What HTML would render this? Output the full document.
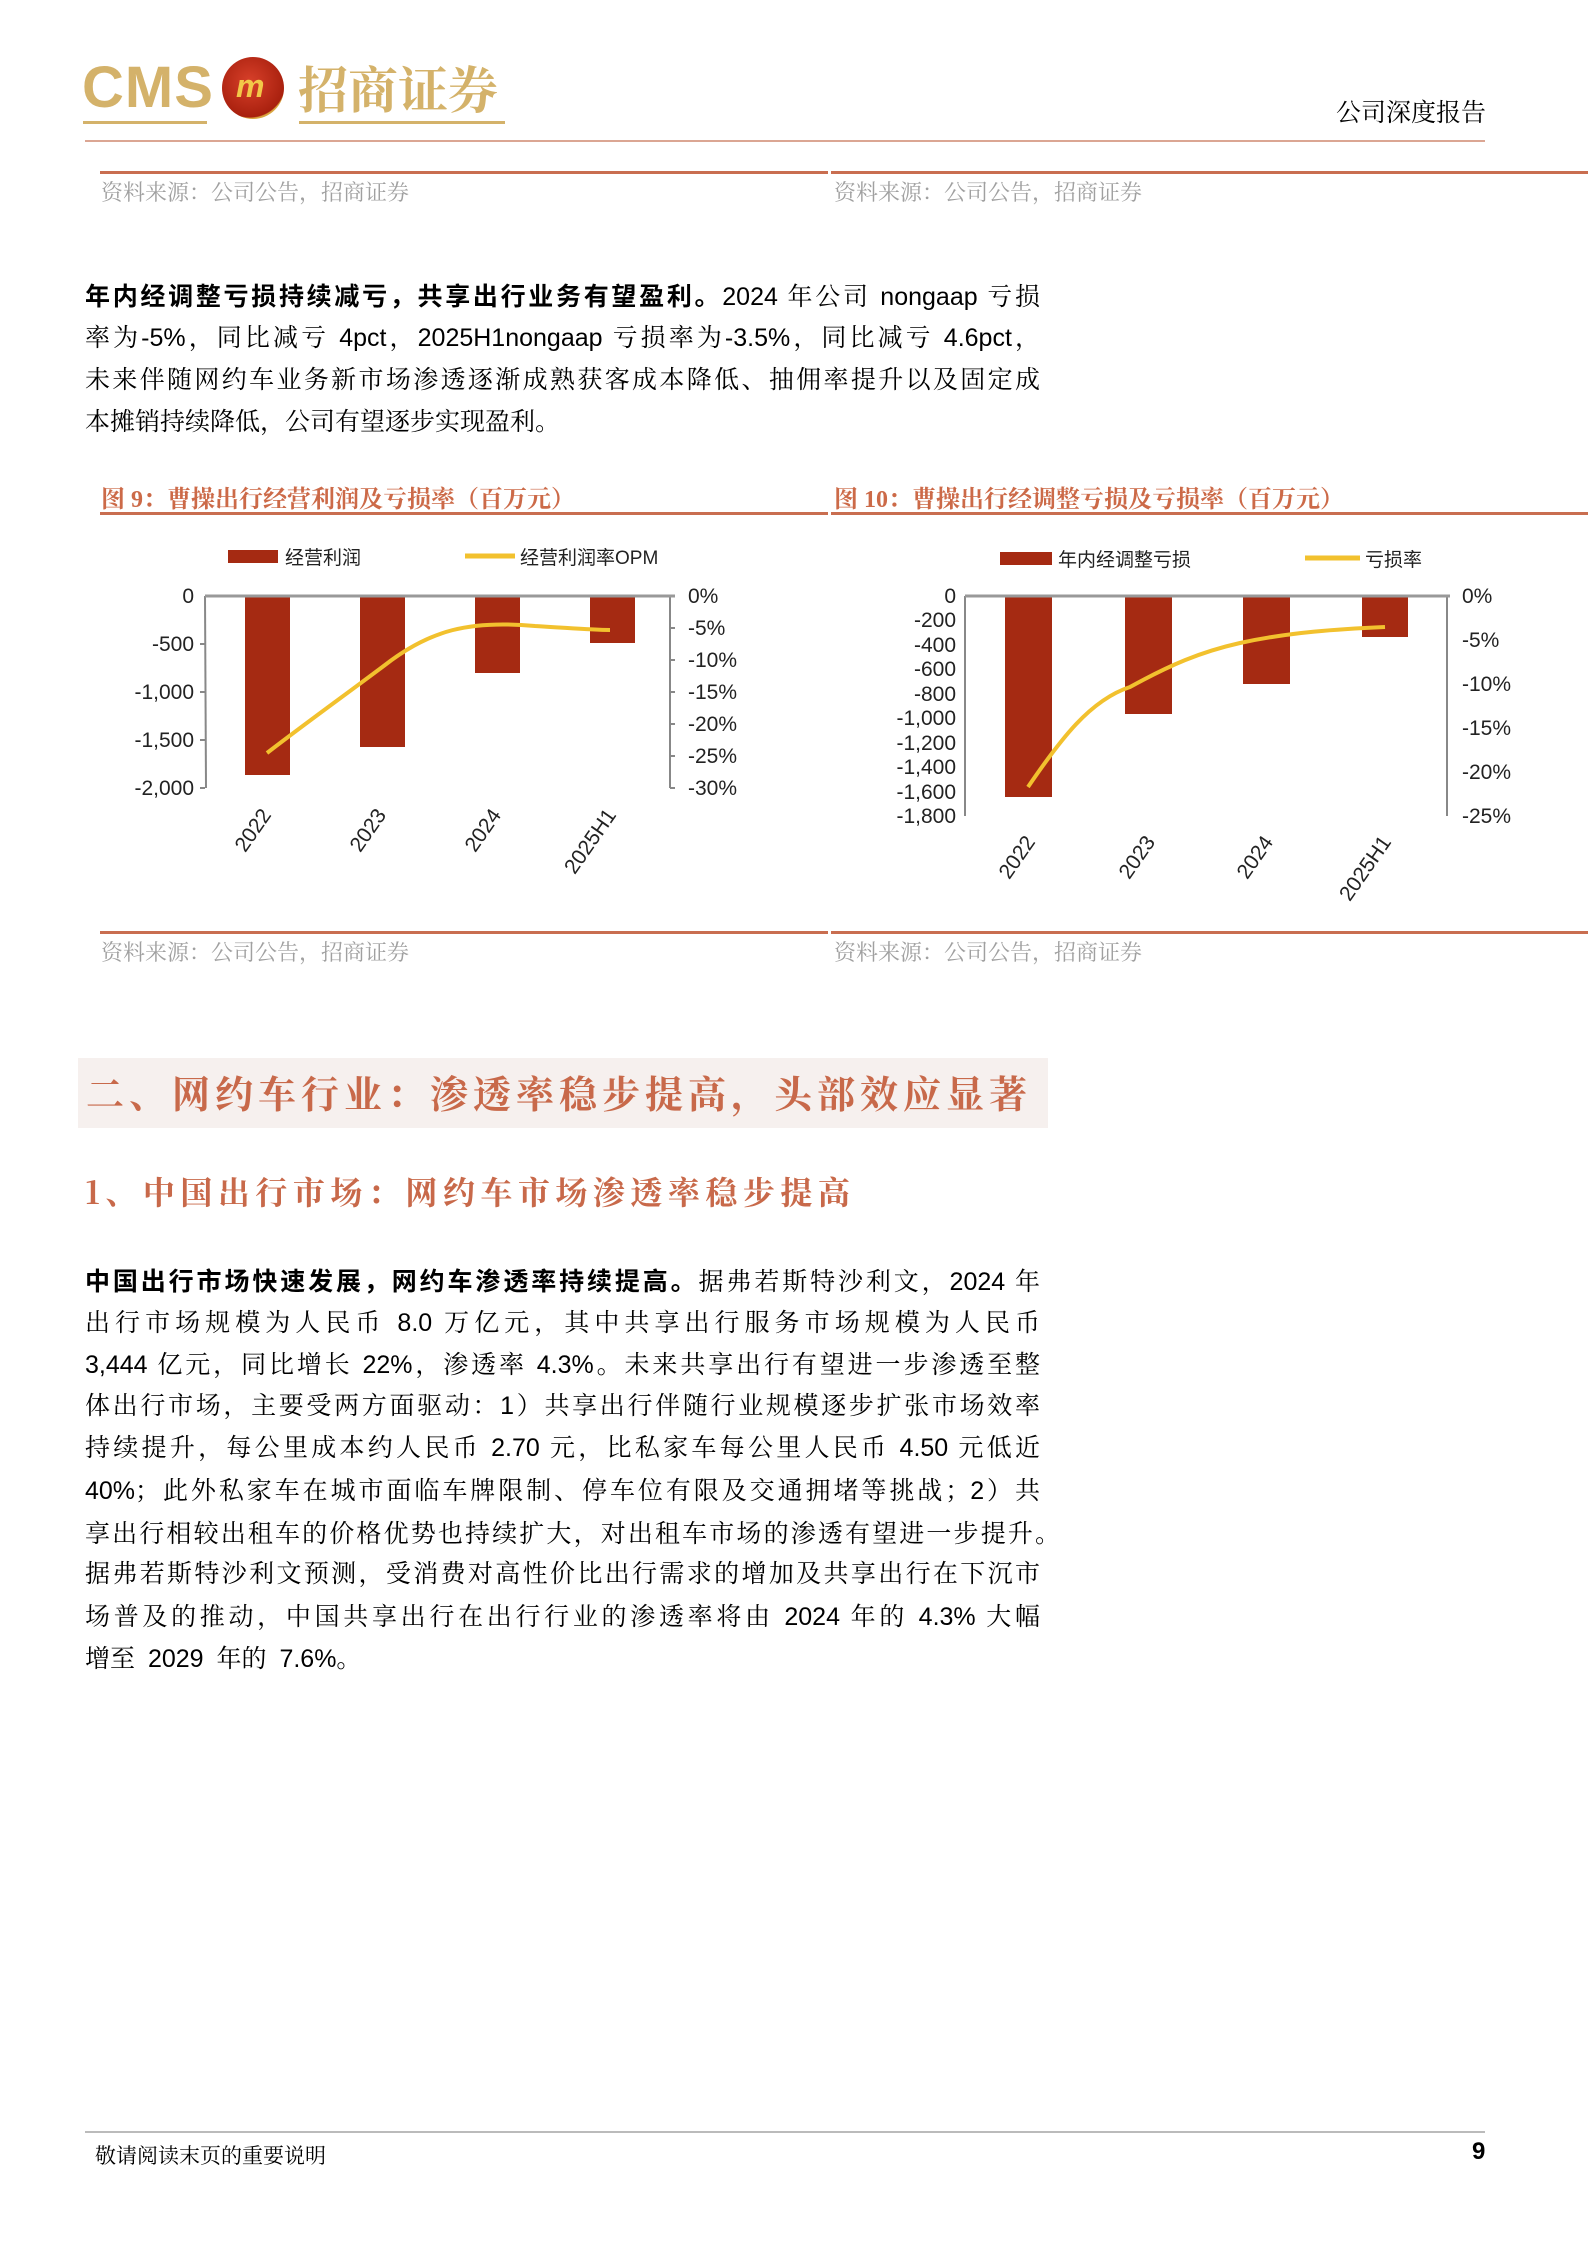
<!DOCTYPE html>
<html><head><meta charset="utf-8"><style>
body{margin:0;background:#fff;}
#p{position:relative;width:1588px;height:2245px;overflow:hidden;font-family:"Liberation Sans","Noto Sans CJK SC",sans-serif;}
.a{position:absolute;white-space:nowrap;}
.src{color:#a0a0a0;font-size:22px;font-family:"Liberation Serif","Noto Serif CJK SC",serif;}
.ft{color:#cc6a48;font-size:24px;font-family:"Liberation Serif","Noto Serif CJK SC",serif;font-weight:bold;}
.ln{position:absolute;left:85px;width:955px;font-size:25px;line-height:30px;text-align:justify;text-align-last:justify;color:#000;font-family:"Liberation Sans","Noto Serif CJK SC",serif;}
.ln b{font-family:"Liberation Sans","Noto Sans CJK SC",sans-serif;}
.ln.l{text-align-last:left;}
.hr{position:absolute;height:3px;background:#c96e50;}
</style></head><body><div id="p">
<!-- header -->
<div class="a" style="left:82px;top:56px;font-size:58px;font-weight:bold;color:#d4b26a;line-height:64px;letter-spacing:1px">CMS</div>
<div class="a" style="left:83px;top:121px;width:124px;height:3px;background:#d4b26a"></div>
<div class="a" style="left:222px;top:57px;width:62px;height:62px;border-radius:50%;background:radial-gradient(circle at 45% 40%,#d8402a,#a8200e 70%,#d9a640 72%);"></div>
<div class="a" style="left:236px;top:68px;font-size:32px;font-weight:bold;font-style:italic;color:#f2c848">m</div>
<div class="a" style="left:298px;top:56px;font-size:50px;font-weight:bold;color:#d4b26a;font-family:'Noto Serif CJK SC',serif;line-height:62px">招商证券</div>
<div class="a" style="left:299px;top:121px;width:206px;height:3px;background:#d4b26a"></div>
<div class="a" style="left:1336px;top:93px;font-size:25px;color:#000;font-family:'Noto Serif CJK SC',serif">公司深度报告</div>
<div class="a" style="left:85px;top:140px;width:1400px;height:2px;background:#dba693"></div>

<div class="hr" style="left:100px;top:171px;width:728px"></div>
<div class="hr" style="left:831px;top:171px;width:757px"></div>
<div class="a src" style="left:101px;top:176px">资料来源：公司公告，招商证券</div>
<div class="a src" style="left:834px;top:176px">资料来源：公司公告，招商证券</div>

<div class="ln" style="top:282px"><b>年内经调整亏损持续减亏，共享出行业务有望盈利。</b>2024 年公司 nongaap 亏损</div>
<div class="ln" style="top:323px">率为-5%，同比减亏 4pct，2025H1nongaap 亏损率为-3.5%，同比减亏 4.6pct，</div>
<div class="ln" style="top:365px">未来伴随网约车业务新市场渗透逐渐成熟获客成本降低、抽佣率提升以及固定成</div>
<div class="ln l" style="top:407px">本摊销持续降低，公司有望逐步实现盈利。</div>

<div class="a ft" style="left:101px;top:479px">图 9：曹操出行经营利润及亏损率（百万元）</div>
<div class="a ft" style="left:834px;top:479px">图 10：曹操出行经调整亏损及亏损率（百万元）</div>
<div class="hr" style="left:100px;top:512px;width:728px"></div>
<div class="hr" style="left:831px;top:512px;width:757px"></div>

<svg class="a" style="left:0;top:0" width="1588" height="1000" font-family="Liberation Sans,Noto Sans CJK SC,sans-serif" font-size="21" fill="#222">
<rect x="228" y="550" width="50" height="13" fill="#a52a12"/>
<text x="285" y="564" font-size="19">经营利润</text>
<line x1="465" y1="556" x2="515" y2="556" stroke="#f2c12e" stroke-width="5"/>
<text x="520" y="564" font-size="19">经营利润率OPM</text>
<rect x="245" y="596" width="45" height="179" fill="#a52a12"/>
<rect x="360" y="596" width="45" height="151" fill="#a52a12"/>
<rect x="475" y="596" width="45" height="77" fill="#a52a12"/>
<rect x="590" y="596" width="45" height="47" fill="#a52a12"/>
<line x1="205" y1="596" x2="206" y2="788" stroke="#888" stroke-width="2"/>
<line x1="670" y1="596" x2="670" y2="788" stroke="#888" stroke-width="2"/>
<line x1="205" y1="596" x2="675" y2="596" stroke="#999" stroke-width="3"/>
<g stroke="#888" stroke-width="2"><line x1="200" y1="644" x2="205" y2="644"/><line x1="200" y1="692" x2="205" y2="692"/><line x1="200" y1="740" x2="205" y2="740"/><line x1="200" y1="788" x2="205" y2="788"/>
<line x1="670" y1="628" x2="675" y2="628"/><line x1="670" y1="660" x2="675" y2="660"/><line x1="670" y1="692" x2="675" y2="692"/><line x1="670" y1="724" x2="675" y2="724"/><line x1="670" y1="756" x2="675" y2="756"/><line x1="670" y1="788" x2="675" y2="788"/></g>
<g text-anchor="end"><text x="194" y="603">0</text><text x="194" y="651">-500</text><text x="194" y="699">-1,000</text><text x="194" y="747">-1,500</text><text x="194" y="795">-2,000</text></g>
<g><text x="688" y="603">0%</text><text x="688" y="635">-5%</text><text x="688" y="667">-10%</text><text x="688" y="699">-15%</text><text x="688" y="731">-20%</text><text x="688" y="763">-25%</text><text x="688" y="795">-30%</text></g>
<path d="M267 753 C310 720,345 695,385 665 C430 630,470 620,535 626 C570 628,590 630,610 630" fill="none" stroke="#f2c12e" stroke-width="4"/>
<g text-anchor="end"><text transform="translate(272,815) rotate(-55)">2022</text><text transform="translate(387,815) rotate(-55)">2023</text><text transform="translate(502,815) rotate(-55)">2024</text><text transform="translate(617,815) rotate(-55)">2025H1</text></g>
<rect x="1000" y="552" width="52" height="13" fill="#a52a12"/>
<text x="1058" y="566" font-size="19">年内经调整亏损</text>
<line x1="1305" y1="558" x2="1360" y2="558" stroke="#f2c12e" stroke-width="5"/>
<text x="1365" y="566" font-size="19">亏损率</text>
<rect x="1005" y="596" width="47" height="201" fill="#a52a12"/>
<rect x="1125" y="596" width="47" height="118" fill="#a52a12"/>
<rect x="1243" y="596" width="47" height="88" fill="#a52a12"/>
<rect x="1362" y="596" width="46" height="41" fill="#a52a12"/>
<line x1="965" y1="596" x2="965" y2="816" stroke="#888" stroke-width="2"/>
<line x1="1447" y1="596" x2="1447" y2="816" stroke="#888" stroke-width="2"/>
<line x1="965" y1="596" x2="1450" y2="596" stroke="#999" stroke-width="3"/>
<g text-anchor="end"><text x="956" y="603">0</text><text x="956" y="627">-200</text><text x="956" y="652">-400</text><text x="956" y="676">-600</text><text x="956" y="701">-800</text><text x="956" y="725">-1,000</text><text x="956" y="750">-1,200</text><text x="956" y="774">-1,400</text><text x="956" y="799">-1,600</text><text x="956" y="823">-1,800</text></g>
<g><text x="1462" y="603">0%</text><text x="1462" y="647">-5%</text><text x="1462" y="691">-10%</text><text x="1462" y="735">-15%</text><text x="1462" y="779">-20%</text><text x="1462" y="823">-25%</text></g>
<path d="M1028 787 C1060 740,1090 700,1130 687 C1170 665,1200 652,1240 643 C1290 632,1340 629,1385 627" fill="none" stroke="#f2c12e" stroke-width="4"/>
<g text-anchor="end"><text transform="translate(1036,842) rotate(-55)">2022</text><text transform="translate(1156,842) rotate(-55)">2023</text><text transform="translate(1274,842) rotate(-55)">2024</text><text transform="translate(1392,842) rotate(-55)">2025H1</text></g>
</svg>

<div class="hr" style="left:100px;top:931px;width:728px"></div>
<div class="hr" style="left:831px;top:931px;width:757px"></div>
<div class="a src" style="left:101px;top:936px">资料来源：公司公告，招商证券</div>
<div class="a src" style="left:834px;top:936px">资料来源：公司公告，招商证券</div>

<div class="a" style="left:78px;top:1058px;width:970px;height:70px;background:#f6f0ee"></div>
<div class="a" style="left:86px;top:1066px;font-size:38px;letter-spacing:5px;color:#c8694a;font-family:'Noto Serif CJK SC',serif;font-weight:bold;line-height:52px">二、网约车行业：渗透率稳步提高，头部效应显著</div>
<div class="a" style="left:85px;top:1168px;font-size:32px;letter-spacing:5.5px;color:#c8694a;font-family:'Noto Serif CJK SC',serif;font-weight:bold;line-height:46px">1、中国出行市场：网约车市场渗透率稳步提高</div>

<div class="ln" style="top:1267px"><b>中国出行市场快速发展，网约车渗透率持续提高。</b>据弗若斯特沙利文，2024 年</div>
<div class="ln" style="top:1308px">出行市场规模为人民币 8.0 万亿元，其中共享出行服务市场规模为人民币</div>
<div class="ln" style="top:1350px">3,444 亿元，同比增长 22%，渗透率 4.3%。未来共享出行有望进一步渗透至整</div>
<div class="ln" style="top:1391px">体出行市场，主要受两方面驱动：1）共享出行伴随行业规模逐步扩张市场效率</div>
<div class="ln" style="top:1433px">持续提升，每公里成本约人民币 2.70 元，比私家车每公里人民币 4.50 元低近</div>
<div class="ln" style="top:1476px">40%；此外私家车在城市面临车牌限制、停车位有限及交通拥堵等挑战；2）共</div>
<div class="ln" style="top:1519px;width:975px">享出行相较出租车的价格优势也持续扩大，对出租车市场的渗透有望进一步提升。</div>
<div class="ln" style="top:1559px">据弗若斯特沙利文预测，受消费对高性价比出行需求的增加及共享出行在下沉市</div>
<div class="ln" style="top:1602px">场普及的推动，中国共享出行在出行行业的渗透率将由 2024 年的 4.3% 大幅</div>
<div class="ln l" style="top:1644px;word-spacing:6px">增至 2029 年的 7.6%。</div>

<div class="a" style="left:85px;top:2131px;width:1400px;height:2px;background:#bbb"></div>
<div class="a" style="left:95px;top:2140px;font-size:21px;font-family:'Noto Serif CJK SC',serif">敬请阅读末页的重要说明</div>
<div class="a" style="left:1472px;top:2138px;font-size:24px;font-weight:bold">9</div>
</div></body></html>
